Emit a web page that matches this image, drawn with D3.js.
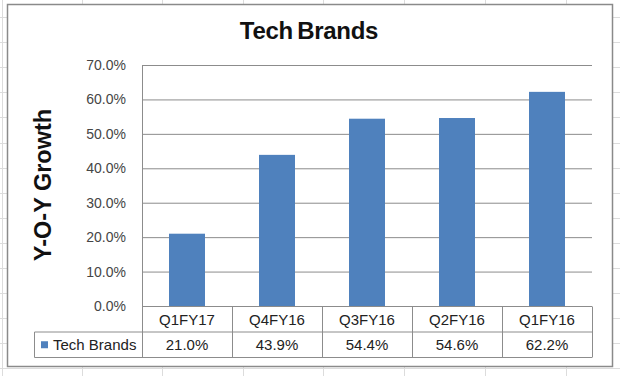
<!DOCTYPE html>
<html>
<head>
<meta charset="utf-8">
<script src="https://cdn.jsdelivr.net/npm/d3@7"></script>
<style>
  body { margin: 0; background: #fff; }
  svg { display: block; }
  text { font-family: "Liberation Sans", Arial, sans-serif; }
</style>
</head>
<body>
<div class="chart"></div>
<script>
// chart data
var categories = ["Q1FY17", "Q4FY16", "Q3FY16", "Q2FY16", "Q1FY16"];
var growth = [0.210, 0.439, 0.544, 0.546, 0.622];
var seriesName = "Tech Brands";
var yTicks = [0, 0.1, 0.2, 0.3, 0.4, 0.5, 0.6, 0.7];

var width = 620;
var height = 376;
var barColor = "#4F81BD";
var lineColor = "#8c8c8c";

// plot area (note: "top" is a reserved window prop, so plotTop etc.)
var plotLeft = 142, plotRight = 592, plotTop = 65, plotBottom = 306;
var rowH = 25.5;
var legendLeft = 34.5;

var svg = d3.select(".chart")
            .append("svg")
            .attr("width", width)
            .attr("height", height);

// spreadsheet cells behind the chart
var sheet = svg.append("g").attr("stroke", "#dcdcdc").attr("stroke-width", 1);
d3.range(17, height, 25.1).forEach(function(y) {
  sheet.append("line").attr("x1", 0).attr("x2", width)
       .attr("y1", Math.round(y) + 0.5).attr("y2", Math.round(y) + 0.5);
});
[2, 82, 162, 243, 323, 404, 485, 566].forEach(function(x) {
  sheet.append("line").attr("y1", 0).attr("y2", height)
       .attr("x1", x + 0.5).attr("x2", x + 0.5);
});

// chart frame
svg.append("rect")
   .attr("x", 7.5).attr("y", 4.5)
   .attr("width", 605).attr("height", 362)
   .attr("fill", "#fff")
   .attr("stroke", "#8a8a8a")
   .attr("stroke-width", 1.5);

const xScale = d3.scaleBand()
                 .domain(categories)
                 .range([plotLeft, plotRight])
                 .paddingInner(0.6)
                 .paddingOuter(0.3);
const cellScale = d3.scaleBand()
                    .domain(categories)
                    .range([plotLeft, plotRight]);
const yScale = d3.scaleLinear()
                 .domain([0, 0.7])
                 .range([plotBottom, plotTop]);

const yAxis = d3.axisLeft(yScale)
                .tickValues(yTicks)
                .tickFormat(d3.format(".1%"))
                .tickSizeInner(-(plotRight - plotLeft))
                .tickSizeOuter(0)
                .tickPadding(16);

var yG = svg.append("g")
   .attr("id", "y-axis")
   .attr("transform", "translate(" + plotLeft + ",0)")
   .call(yAxis);
yG.select(".domain").remove();
yG.selectAll(".tick line").attr("stroke", lineColor);
yG.selectAll(".tick text")
  .attr("fill", "#454545")
  .style("font-size", "14px");

// bars
svg.selectAll("rect.bar")
   .data(growth)
   .enter()
   .append("rect")
   .attr("class", "bar")
   .attr("x", (d, i) => xScale(categories[i]))
   .attr("y", d => yScale(d))
   .attr("width", xScale.bandwidth())
   .attr("height", d => yScale(0) - yScale(d))
   .attr("fill", barColor);

// data table
var table = svg.append("g").attr("stroke", lineColor).attr("stroke-width", 1).attr("fill", "none");
var y0 = yScale(0) + 0.5, y1 = y0 + rowH, y2 = y1 + rowH;
table.append("line").attr("x1", plotLeft).attr("x2", plotRight).attr("y1", y0).attr("y2", y0);
table.append("line").attr("x1", legendLeft).attr("x2", plotRight).attr("y1", y1).attr("y2", y1);
table.append("line").attr("x1", legendLeft).attr("x2", plotRight).attr("y1", y2).attr("y2", y2);
table.append("line").attr("x1", legendLeft).attr("x2", legendLeft).attr("y1", y1).attr("y2", y2);
table.append("line").attr("x1", plotLeft + 0.5).attr("x2", plotLeft + 0.5).attr("y1", plotTop).attr("y2", y2);
categories.forEach(function(c) {
  var x = Math.round(cellScale(c) + cellScale.bandwidth()) + 0.5;
  table.append("line").attr("x1", x).attr("x2", x).attr("y1", y0).attr("y2", y2);
});

svg.selectAll("text.cat")
   .data(categories)
   .enter()
   .append("text")
   .attr("class", "cat")
   .attr("x", d => cellScale(d) + cellScale.bandwidth() / 2)
   .attr("y", (y0 + y1) / 2)
   .attr("dy", "0.35em")
   .attr("text-anchor", "middle")
   .attr("fill", "#222")
   .style("font-size", "15px")
   .text(d => d);

svg.selectAll("text.val")
   .data(growth)
   .enter()
   .append("text")
   .attr("class", "val")
   .attr("x", (d, i) => cellScale(categories[i]) + cellScale.bandwidth() / 2)
   .attr("y", (y1 + y2) / 2)
   .attr("dy", "0.35em")
   .attr("text-anchor", "middle")
   .attr("fill", "#222")
   .style("font-size", "15px")
   .text(d => d3.format(".1%")(d));

// legend key in table
svg.append("rect")
   .attr("x", 41).attr("y", (y1 + y2) / 2 - 3.5)
   .attr("width", 7).attr("height", 7)
   .attr("fill", barColor);
svg.append("text")
   .attr("x", 53)
   .attr("y", (y1 + y2) / 2)
   .attr("dy", "0.35em")
   .attr("fill", "#222")
   .style("font-size", "15px")
   .text(seriesName);

// title
svg.append("text")
   .attr("x", 309)
   .attr("y", 39)
   .attr("text-anchor", "middle")
   .style("font-size", "24px")
   .style("font-weight", "bold")
   .style("letter-spacing", "-0.3px")
   .style("word-spacing", "-2px")
   .attr("fill", "#111")
   .text("Tech Brands");

// y axis title
svg.append("g")
   .attr("transform", "translate(51,185)")
   .append("text")
   .attr("text-anchor", "middle")
   .attr("transform", "rotate(-90)")
   .style("font-size", "23.5px")
   .style("font-weight", "bold")
   .attr("fill", "#111")
   .text("Y-O-Y Growth");
</script>
</body>
</html>
